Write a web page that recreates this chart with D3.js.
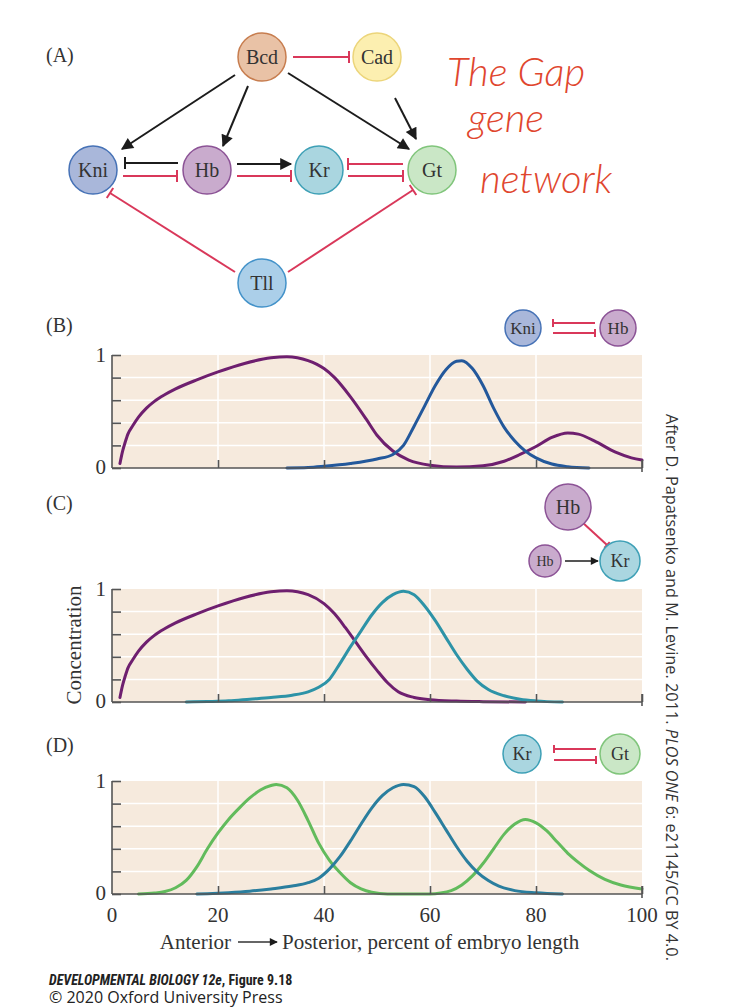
<!DOCTYPE html>
<html>
<head>
<meta charset="utf-8">
<script src="https://cdn.jsdelivr.net/npm/d3@7"></script>
<style>
  body { margin: 0; background: #fff; }
  svg { display: block; }
</style>
</head>
<body>
<div id="chart"></div>
<script>
// Dimensions
const width = 740;
const height = 1008;

// Données : [position %, concentration]
const hbB = [[1.5,0.04],[2,0.15],[2.5,0.23],[3,0.3],[4,0.38],[5,0.45],[6.5,0.53],[8,0.59],[10,0.65],[12,0.7],[16,0.78],[20,0.85],[25,0.925],[30,0.975],[33,0.985],[37,0.95],[40,0.88],[42,0.8],[45,0.63],[48,0.43],[50,0.29],[53,0.15],[56,0.07],[60,0.025],[65,0.008],[70,0.02],[74,0.06],[77,0.12],[80,0.19],[83,0.27],[86,0.31],[88,0.3],[91,0.24],[95,0.14],[98,0.09],[100,0.07]];
const kniB = [[33,0],[37,0.004],[40,0.015],[45,0.04],[50,0.08],[53,0.12],[55,0.2],[57,0.37],[59,0.55],[61,0.73],[63,0.87],[65,0.945],[66,0.95],[68,0.88],[70,0.73],[72,0.53],[74,0.36],[76,0.24],[78,0.15],[80,0.09],[83,0.035],[86,0.012],[90,0]];
const hbC = [[1.5,0.04],[2,0.15],[2.5,0.23],[3,0.3],[4,0.38],[5,0.45],[6.5,0.53],[8,0.59],[10,0.65],[12,0.7],[16,0.78],[20,0.85],[25,0.925],[30,0.975],[33,0.985],[37,0.95],[40,0.87],[42,0.78],[44,0.66],[46,0.53],[48,0.4],[50,0.28],[52,0.17],[54,0.09],[57,0.04],[60,0.02],[65,0.008],[70,0.003],[78,0]];
const krC = [[14,0],[18,0.004],[22,0.01],[26,0.025],[30,0.04],[34,0.06],[37,0.09],[39,0.13],[41,0.2],[43,0.34],[45,0.49],[47,0.63],[49,0.77],[51,0.88],[53,0.95],[55,0.98],[57,0.95],[59,0.85],[61,0.72],[63,0.57],[65,0.42],[67,0.29],[69,0.18],[71,0.11],[74,0.055],[77,0.025],[80,0.01],[85,0]];
const gtD = [[5,0],[8,0.008],[10,0.022],[12,0.055],[14,0.12],[16,0.24],[18,0.4],[20,0.54],[22,0.66],[24,0.76],[26,0.85],[28,0.92],[30,0.96],[31,0.97],[33,0.94],[35,0.83],[37,0.65],[39,0.45],[41,0.3],[43,0.19],[45,0.1],[47,0.045],[49,0.015],[52,0],[60,0],[62,0.008],[64,0.03],[66,0.08],[68,0.16],[70,0.27],[72,0.4],[74,0.53],[76,0.62],[78,0.66],[80,0.63],[82,0.56],[84,0.46],[86,0.36],[88,0.28],[90,0.21],[93,0.13],[96,0.08],[100,0.045]];
const krD = [[16,0],[18,0.003],[22,0.012],[26,0.025],[30,0.045],[34,0.07],[37,0.1],[39,0.14],[41,0.22],[43,0.33],[45,0.47],[47,0.62],[49,0.76],[51,0.87],[53,0.94],[55,0.97],[57,0.95],[59,0.86],[61,0.72],[63,0.57],[65,0.42],[67,0.29],[69,0.19],[71,0.12],[73,0.07],[76,0.03],[80,0.01],[85,0]];

const xTicks = [0, 20, 40, 60, 80, 100];
const yTicks = [0, 0.2, 0.4, 0.6, 0.8, 1];
const yLabels = [0, 1];

// Réseau (A)
const nodes = [
  { id: "Bcd", fill: "#e9c2a6", stroke: "#c77d4f" },
  { id: "Cad", fill: "#fcefb0", stroke: "#ecd57a" },
  { id: "Kni", fill: "#a9b7da", stroke: "#4672b6" },
  { id: "Hb",  fill: "#c9abcd", stroke: "#8c5396" },
  { id: "Kr",  fill: "#aad6e0", stroke: "#3ea0b6" },
  { id: "Gt",  fill: "#cae7c6", stroke: "#80c57b" },
  { id: "Tll", fill: "#abcfe9", stroke: "#4392c9" }
];

const serif = "'Liberation Serif', 'DejaVu Serif', serif";
const sans = "'Open Sans', 'Noto Sans', sans-serif";
const red = "#d9385a";
const ink = "#1c1c1c";

const svg = d3.select("#chart")
    .append("svg")
    .attr("width", width)
    .attr("height", height);

const defs = svg.append("defs");
defs.append("marker")
    .attr("id", "arrow")
    .attr("viewBox", "0 0 10 10")
    .attr("refX", 9).attr("refY", 5)
    .attr("markerWidth", 9).attr("markerHeight", 8)
    .attr("markerUnits", "userSpaceOnUse")
    .attr("orient", "auto")
    .append("path")
    .attr("d", "M0,0 L10,5 L0,10 Z")
    .attr("fill", ink);
defs.append("marker")
    .attr("id", "arrowBig")
    .attr("viewBox", "0 0 10 10")
    .attr("refX", 9).attr("refY", 5)
    .attr("markerWidth", 15).attr("markerHeight", 12)
    .attr("markerUnits", "userSpaceOnUse")
    .attr("orient", "auto")
    .append("path")
    .attr("d", "M0,0 L10,5 L0,10 Z")
    .attr("fill", ink);

// trait d'inhibition (ligne + barre en T)
function inhibit(g, x1, y1, x2, y2, color, bar) {
    g.append("line")
        .attr("x1", x1).attr("y1", y1).attr("x2", x2).attr("y2", y2)
        .attr("stroke", color).attr("stroke-width", 2);
    const a = Math.atan2(y2 - y1, x2 - x1);
    const dx = Math.sin(a) * bar, dy = -Math.cos(a) * bar;
    g.append("line")
        .attr("x1", x2 - dx).attr("y1", y2 - dy).attr("x2", x2 + dx).attr("y2", y2 + dy)
        .attr("stroke", color).attr("stroke-width", 2);
}
function activate(g, x1, y1, x2, y2, marker) {
    g.append("line")
        .attr("x1", x1).attr("y1", y1).attr("x2", x2).attr("y2", y2)
        .attr("stroke", ink).attr("stroke-width", 2)
        .attr("marker-end", "url(#" + marker + ")");
}
function node(g, id, cx, cy, r, size) {
    const n = nodes.find(d => d.id === id);
    g.append("circle")
        .attr("cx", cx).attr("cy", cy).attr("r", r)
        .attr("fill", n.fill).attr("stroke", n.stroke).attr("stroke-width", 1.5);
    g.append("text")
        .attr("x", cx).attr("y", cy)
        .attr("dy", "0.35em")
        .attr("text-anchor", "middle")
        .attr("font-family", serif)
        .attr("font-size", size)
        .attr("fill", "#333")
        .text(id);
}

// ---------- (A) ----------
const net = svg.append("g");
net.append("text").attr("x", 46).attr("y", 62)
    .attr("font-family", serif).attr("font-size", 20).attr("fill", "#333").text("(A)");

const pos = { Bcd: [262, 57], Cad: [377, 57], Kni: [93, 170], Hb: [207, 170], Kr: [319, 170], Gt: [432, 170], Tll: [262, 283] };

inhibit(net, 293, 57, 349, 57, red, 6);
activate(net, 235, 75, 122, 149, "arrowBig");
activate(net, 248, 86, 223, 146, "arrowBig");
activate(net, 288, 73, 409, 149, "arrowBig");
activate(net, 395, 98, 416, 139, "arrowBig");
inhibit(net, 178, 163, 125, 163, ink, 6);
inhibit(net, 123, 176, 177, 176, red, 6);
activate(net, 237, 164, 291, 164, "arrowBig");
inhibit(net, 237, 176, 291, 176, red, 6);
inhibit(net, 403, 164, 348, 164, red, 6);
inhibit(net, 348, 176, 403, 176, red, 6);
inhibit(net, 235, 272, 110, 193, red, 6);
inhibit(net, 288, 272, 413, 190, red, 6);

Object.keys(pos).forEach(k => node(net, k, pos[k][0], pos[k][1], 24, 20));

// Texte manuscrit
const hand = svg.append("g")
    .attr("font-family", "'Lato', sans-serif")
    .attr("font-style", "italic")
    .attr("font-weight", 300)
    .attr("fill", "#e0462e")
    .attr("font-size", 40);
hand.append("text").attr("x", 447).attr("y", 86).text("The Gap");
hand.append("text").attr("x", 468).attr("y", 132).text("gene");
hand.append("text").attr("x", 480).attr("y", 193).text("network");

// ---------- Graphiques ----------
const x = d3.scaleLinear().domain([0, 100]).range([112, 642]);

const panels = [
    { label: "(B)", top: 355, bottom: 468, labelY: 332, series: [{ d: hbB, c: "#6e1f6f" }, { d: kniB, c: "#23589b" }] },
    { label: "(C)", top: 589, bottom: 702, labelY: 510, series: [{ d: hbC, c: "#6e1f6f" }, { d: krC, c: "#2d93a7" }] },
    { label: "(D)", top: 781, bottom: 894, labelY: 752, series: [{ d: gtD, c: "#62bb5c" }, { d: krD, c: "#2a7e9e" }] }
];

panels.forEach(function(p, i) {
    const y = d3.scaleLinear().domain([0, 1]).range([p.bottom, p.top]);
    const g = svg.append("g");

    g.append("text").attr("x", 46).attr("y", p.labelY)
        .attr("font-family", serif).attr("font-size", 20).attr("fill", "#333").text(p.label);

    g.append("rect")
        .attr("x", x(0)).attr("y", y(1))
        .attr("width", x(100) - x(0)).attr("height", y(0) - y(1))
        .attr("fill", "#f6eadd");

    // grille blanche
    g.selectAll(".hg").data(yTicks.slice(1, 5)).enter().append("line")
        .attr("x1", x(0)).attr("x2", x(100))
        .attr("y1", d => y(d)).attr("y2", d => y(d))
        .attr("stroke", "#fff").attr("stroke-width", 1.5);
    g.selectAll(".vg").data(xTicks.slice(1, 5)).enter().append("line")
        .attr("x1", d => x(d)).attr("x2", d => x(d))
        .attr("y1", y(0)).attr("y2", y(1))
        .attr("stroke", "#fff").attr("stroke-width", 1.5);

    const line = d3.line()
        .x(d => x(d[0])).y(d => y(d[1]))
        .curve(d3.curveMonotoneX);
    p.series.forEach(function(s) {
        g.append("path").datum(s.d)
            .attr("d", line)
            .attr("fill", "none")
            .attr("stroke", s.c)
            .attr("stroke-width", 3)
            .attr("stroke-linecap", "round");
    });

    // axes (graduations vers l'intérieur)
    const yAxis = g.append("g").attr("transform", `translate(${x(0)},0)`)
        .call(d3.axisRight(y).tickValues(yTicks).tickSize(9).tickFormat(""));
    const xAxis = g.append("g").attr("transform", `translate(0,${y(0)})`)
        .call(d3.axisTop(x).tickValues(xTicks.slice(1)).tickSize(8).tickFormat(""));
    [yAxis, xAxis].forEach(a => {
        a.select(".domain").attr("stroke", "#555").attr("stroke-width", 1.6);
        a.selectAll(".tick line").attr("stroke", "#555").attr("stroke-width", 1.6);
    });
    xAxis.select(".domain").attr("d", `M${x(0)},0H${x(100)}`);
    yAxis.select(".domain").attr("d", `M0,${y(0)}V${y(1)}`);
    // petit dépassement à 100
    g.append("line").attr("x1", x(100)).attr("x2", x(100))
        .attr("y1", y(0) - 8).attr("y2", y(0) + 4)
        .attr("stroke", "#555").attr("stroke-width", 1.6);

    g.selectAll(".yl").data(yLabels).enter().append("text")
        .attr("x", x(0) - 6)
        .attr("y", d => y(d))
        .attr("dy", d => d === 0 ? "0.3em" : "0.35em")
        .attr("text-anchor", "end")
        .attr("font-family", serif).attr("font-size", 21).attr("fill", "#333")
        .text(d => d);

    if (i === 2) {
        g.selectAll(".xl").data(xTicks).enter().append("text")
            .attr("x", d => x(d))
            .attr("y", y(0) + 28)
            .attr("text-anchor", "middle")
            .attr("font-family", serif).attr("font-size", 21).attr("fill", "#333")
            .text(d => d);
    }
});

// Petits schémas
const sB = svg.append("g");
inhibit(sB, 595, 323, 553, 323, red, 4);
inhibit(sB, 553, 333, 595, 333, red, 4);
node(sB, "Kni", 523, 328, 18, 17);
node(sB, "Hb", 618, 328, 18, 17);

const sC = svg.append("g");
inhibit(sC, 582, 522, 607, 545, red, 4);
sC.append("line").attr("x1", 565).attr("y1", 561).attr("x2", 598).attr("y2", 561)
    .attr("stroke", ink).attr("stroke-width", 1.5).attr("marker-end", "url(#arrow)");
node(sC, "Hb", 568, 507, 23, 20);
node(sC, "Hb", 545, 561, 16, 14);
node(sC, "Kr", 620, 561, 20, 18);

const sD = svg.append("g");
inhibit(sD, 596, 749, 554, 749, red, 4);
inhibit(sD, 554, 760, 596, 760, red, 4);
node(sD, "Kr", 522, 754, 19, 18);
node(sD, "Gt", 620, 754, 20, 18);

// Étiquette de l'axe Y
svg.append("text")
    .attr("transform", "translate(81,645) rotate(-90)")
    .attr("text-anchor", "middle")
    .attr("font-family", serif).attr("font-size", 21).attr("fill", "#333")
    .text("Concentration");

// Étiquette de l'axe X avec flèche
const xl = svg.append("g").attr("font-family", serif).attr("font-size", 21).attr("fill", "#333");
xl.append("text").attr("x", 231).attr("y", 949).attr("text-anchor", "end").text("Anterior");
xl.append("line").attr("x1", 238).attr("y1", 942).attr("x2", 277).attr("y2", 942)
    .attr("stroke", "#333").attr("stroke-width", 1.5).attr("marker-end", "url(#arrow)");
xl.append("text").attr("x", 282).attr("y", 949).text("Posterior, percent of embryo length");

// Crédit vertical
const cred = svg.append("text")
    .attr("transform", "translate(666,414) rotate(90)")
    .attr("font-family", sans).attr("font-size", 16.3).attr("fill", "#333");
cred.append("tspan").text("After D. Papatsenko and M. Levine. 2011. ");
cred.append("tspan").attr("font-style", "italic").text("PLOS ONE");
cred.append("tspan").text(" 6: e21145/CC BY 4.0.");

// Pied de page
const foot = svg.append("g").attr("font-family", sans).attr("fill", "#222");
const f1 = foot.append("text").attr("x", 49).attr("y", 985)
    .attr("font-size", 14).attr("font-weight", 700)
    .attr("font-family", "'Liberation Sans Narrow', 'Roboto Condensed', 'Liberation Sans', sans-serif");
f1.append("tspan").attr("font-style", "italic").text("DEVELOPMENTAL BIOLOGY 12e");
f1.append("tspan").text(", Figure 9.18");
foot.append("text").attr("x", 49).attr("y", 1003).attr("font-size", 16).text("© 2020 Oxford University Press");
</script>
</body>
</html>
